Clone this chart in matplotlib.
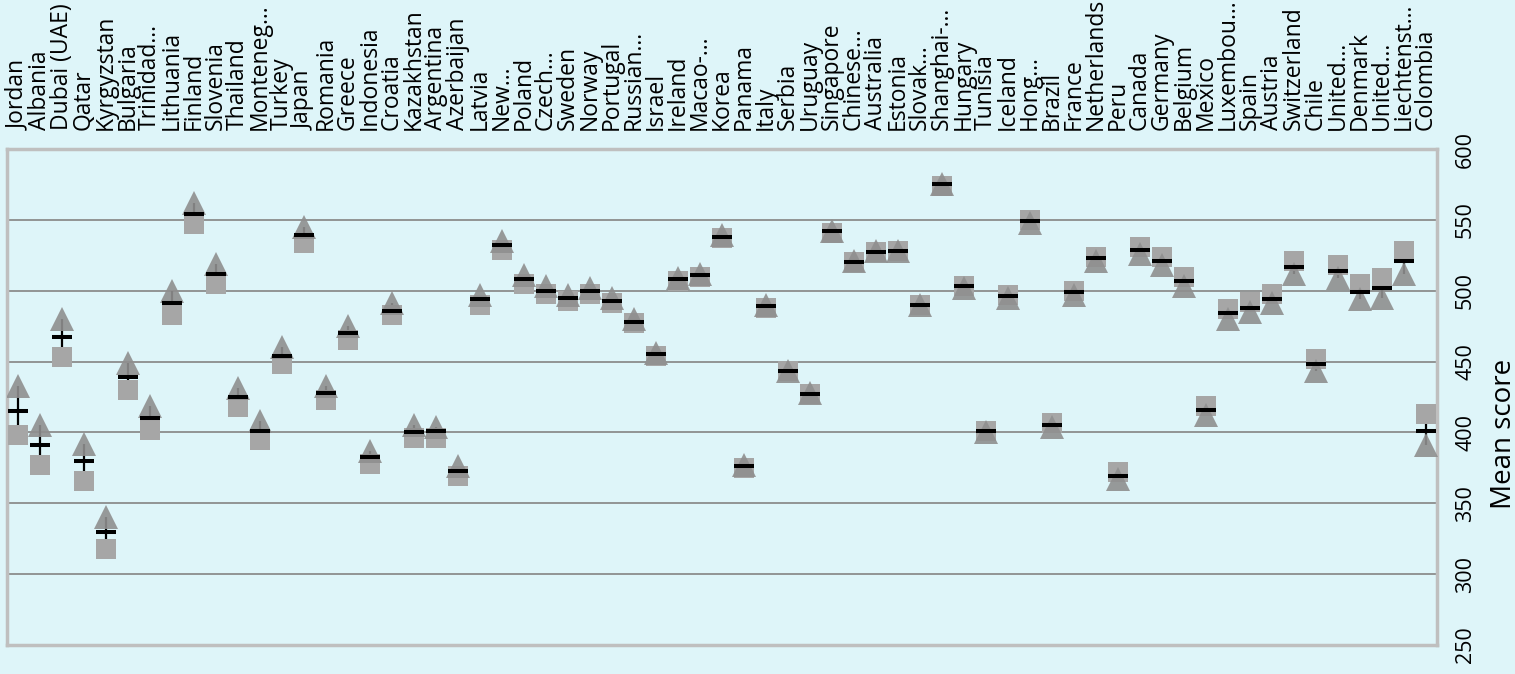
import matplotlib
matplotlib.use("Agg")
import matplotlib.pyplot as plt

plt.rcParams['font.family'] = ['Open Sans', 'DejaVu Sans']

BG = '#DEF5F9'

countries = [
    "Jordan", "Albania", "Dubai (UAE)", "Qatar", "Kyrgyzstan", "Bulgaria",
    "Trinidad…", "Lithuania", "Finland", "Slovenia", "Thailand", "Monteneg…",
    "Turkey", "Japan", "Romania", "Greece", "Indonesia", "Croatia",
    "Kazakhstan", "Argentina", "Azerbaijan", "Latvia", "New…", "Poland",
    "Czech…", "Sweden", "Norway", "Portugal", "Russian…", "Israel",
    "Ireland", "Macao-…", "Korea", "Panama", "Italy", "Serbia",
    "Uruguay", "Singapore", "Chinese…", "Australia", "Estonia", "Slovak…",
    "Shanghai-…", "Hungary", "Tunisia", "Iceland", "Hong…", "Brazil",
    "France", "Netherlands", "Peru", "Canada", "Germany", "Belgium",
    "Mexico", "Luxembou…", "Spain", "Austria", "Switzerland", "Chile",
    "United…", "Denmark", "United…", "Liechtenst…", "Colombia",
]

# triangles
girls = [
    433, 405, 480, 392, 340, 449, 419, 500, 562, 519, 431, 408,
    460, 545, 433, 475, 387, 491, 405, 404, 376, 497, 535, 511,
    503, 497, 502, 495, 480, 456, 509, 512, 539, 377, 490, 443,
    428, 542, 521, 528, 528, 490, 575, 502, 400, 495, 548, 404,
    497, 521, 367, 526, 518, 503, 412, 480, 485, 491, 512, 443,
    509, 494, 495, 512, 391,
]

# squares
boys = [
    398, 377, 453, 366, 318, 430, 402, 483, 547, 505, 418, 395,
    448, 534, 423, 465, 378, 483, 396, 396, 369, 490, 529, 505,
    498, 493, 498, 491, 477, 454, 507, 510, 537, 375, 488, 443,
    427, 541, 520, 527, 528, 490, 574, 503, 401, 497, 550, 407,
    500, 524, 372, 531, 524, 510, 419, 487, 492, 498, 521, 452,
    518, 505, 509, 528, 413,
]

# dashes
mean_score = [
    415, 391, 467, 380, 330, 439, 410, 491, 554, 512, 425, 401,
    454, 539, 428, 470, 383, 486, 400, 401, 373, 494, 532, 508,
    500, 495, 500, 493, 478, 455, 508, 511, 538, 376, 489, 443,
    427, 542, 520, 527, 528, 490, 575, 503, 401, 496, 549, 405,
    499, 523, 369, 529, 521, 507, 416, 484, 488, 494, 517, 448,
    514, 499, 502, 521, 401,
]

y_ticks = [250, 300, 350, 400, 450, 500, 550, 600]

fig = plt.figure(figsize=(15.15, 6.74), dpi=100, facecolor=BG)
ax = fig.add_axes([7 / 1515, 29 / 674, 1430 / 1515, 496 / 674], facecolor=BG)

x = list(range(len(countries)))

# high-low line between the two groups, hidden under the markers
ax.vlines(x, girls, boys, color='black', linewidth=1.6, zorder=2)
ax.plot(x, boys, linestyle='none', marker='s', markersize=13.7,
        color='#A6A6A6', markeredgewidth=0, zorder=3)
ax.plot(x, girls, linestyle='none', marker='^', markersize=17,
        color='#8F8F8F', alpha=0.9, markeredgewidth=0, zorder=4)
ax.plot(x, mean_score, linestyle='none', marker='_', markersize=13.7,
        color='black', markeredgewidth=2.9, zorder=5)

ax.set_xlim(-0.5, len(countries) - 0.5)
ax.set_ylim(250, 600)

ax.xaxis.tick_top()
ax.set_xticks(x)
ax.set_xticklabels(countries, rotation=90, fontsize=16.5)
ax.tick_params(axis='x', length=0, pad=13.5)

ax.yaxis.tick_right()
ax.set_yticks(y_ticks)
ax.set_yticklabels([str(v) for v in y_ticks], rotation=90, va='center',
                   fontsize=15.5)
ax.tick_params(axis='y', length=0, pad=13)

ax.yaxis.grid(True, color='#8C8C8C', linewidth=1.3)
ax.set_axisbelow(True)
for spine in ax.spines.values():
    spine.set_color('#BFBFBF')
    spine.set_linewidth(2.5)

fig.text(1504 / 1515, 1 - 434 / 674, "Mean score", rotation=90,
         ha='center', va='center', fontsize=20)

fig.savefig("out.png", dpi=100, facecolor=BG)
